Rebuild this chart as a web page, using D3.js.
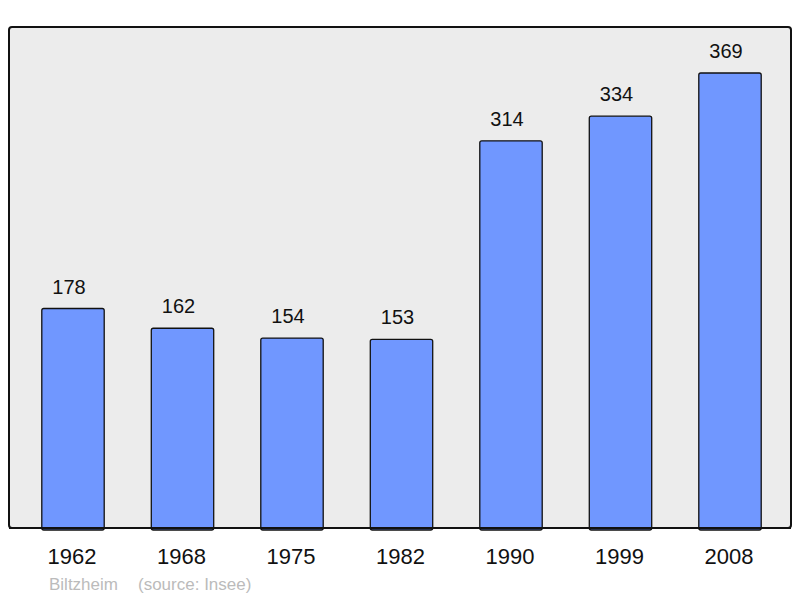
<!DOCTYPE html>
<html>
<head>
<meta charset="utf-8">
<script src="https://cdn.jsdelivr.net/npm/d3@7"></script>
<style>
  body { margin: 0; background: #fff; }
  text { font-family: "Liberation Sans", Arial, sans-serif; }
</style>
</head>
<body>
<div id="chart"></div>
<script>
var annees = ["1962", "1968", "1975", "1982", "1990", "1999", "2008"];
var population = [178, 162, 154, 153, 314, 334, 369];
var commune = "Biltzheim";
var source = "(source: Insee)";

var svg = d3.select("#chart")
  .append("svg")
  .attr("width", 800)
  .attr("height", 598);

// fond du graphique
svg.append("rect")
  .attr("x", 9)
  .attr("y", 27)
  .attr("width", 782)
  .attr("height", 501)
  .attr("rx", 3)
  .attr("fill", "#ececec")
  .attr("stroke", "#111")
  .attr("stroke-width", 2);

var x = d3.scaleBand()
  .domain(annees)
  .range([18.25, 784.75])
  .paddingInner(0.43)
  .paddingOuter(0.215);

var y = d3.scaleLinear()
  .domain([0, 369])
  .range([528, 73]);

var datos = annees.map(function(a, i) { return {annee: a, pop: population[i]}; });

svg.append("g")
  .selectAll("rect")
  .data(datos)
  .join("rect")
  .attr("x", d => x(d.annee))
  .attr("y", d => y(d.pop))
  .attr("width", x.bandwidth())
  .attr("height", d => 528 - y(d.pop) + 2)
  .attr("rx", 2)
  .attr("fill", "#7097ff")
  .attr("stroke", "#111")
  .attr("stroke-width", 1.3);

// redessine le bas du cadre par dessus les barres
svg.append("line")
  .attr("x1", 9).attr("x2", 791)
  .attr("y1", 528).attr("y2", 528)
  .attr("stroke", "#111")
  .attr("stroke-width", 2);

svg.append("g")
  .selectAll("text")
  .data(datos)
  .join("text")
  .attr("x", d => x(d.annee) + x.bandwidth() / 2 - 4)
  .attr("y", d => y(d.pop) - 15)
  .attr("text-anchor", "middle")
  .attr("font-size", 20)
  .attr("fill", "#111")
  .text(d => d.pop);

var axe = d3.axisBottom(x).tickSize(0).tickPadding(0);
var gx = svg.append("g")
  .attr("transform", "translate(-1,564)")
  .call(axe);
gx.select(".domain").remove();
gx.selectAll("text")
  .attr("font-size", 22)
  .attr("fill", "#111")
  .attr("dy", 0)
  .style("font-family", "'Liberation Sans', Arial, sans-serif");

svg.append("text")
  .attr("x", 49)
  .attr("y", 590)
  .attr("font-size", 17)
  .attr("fill", "#bbb")
  .text(commune);

svg.append("text")
  .attr("x", 138)
  .attr("y", 590)
  .attr("font-size", 17)
  .attr("fill", "#bbb")
  .text(source);
</script>
</body>
</html>
